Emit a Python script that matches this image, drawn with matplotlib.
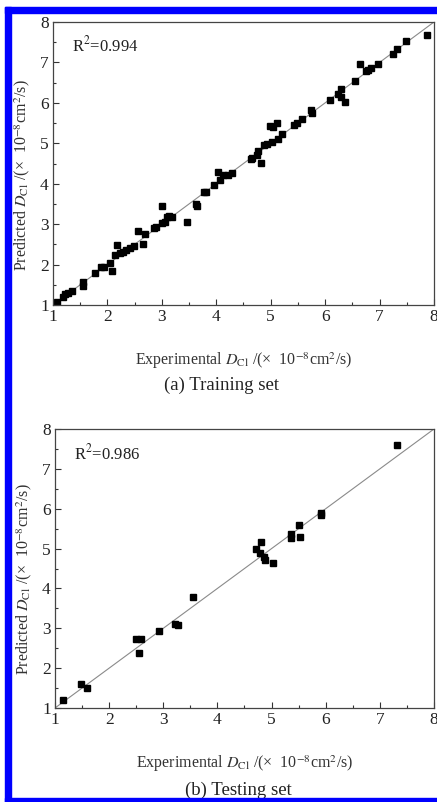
import numpy as np
import matplotlib
matplotlib.use("Agg")
import matplotlib.pyplot as plt
from matplotlib.patches import Rectangle
from matplotlib.ticker import MultipleLocator

plt.rcParams['font.family'] = ['Liberation Serif', 'DejaVu Serif']
plt.rcParams['mathtext.fontset'] = 'stix'

# training set (experimental, predicted)
train_exp = [1.07, 1.19, 1.22, 1.28, 1.34, 1.56, 1.56, 1.77, 1.88, 1.94, 2.05, 2.08,
             2.17, 2.14, 2.23, 2.29, 2.35, 2.42, 2.48, 2.57, 2.66, 2.69, 2.86, 2.90,
             3.01, 3.00, 3.06, 3.09, 3.13, 3.18, 3.46, 3.63, 3.64, 3.77, 3.82, 3.95,
             4.03, 4.06, 4.12, 4.21, 4.28, 4.64, 4.66, 4.74, 4.76, 4.83, 4.87, 4.94,
             5.03, 4.99, 5.05, 5.11, 5.13, 5.21, 5.43, 5.49, 5.58, 5.74, 5.76, 6.09,
             6.24, 6.29, 6.29, 6.36, 6.55, 6.64, 6.75, 6.78, 6.85, 6.98, 7.25, 7.32,
             7.48, 7.87]
train_pred = [1.08, 1.21, 1.26, 1.30, 1.35, 1.58, 1.47, 1.78, 1.93, 1.93, 2.05, 1.85,
              2.49, 2.24, 2.28, 2.32, 2.35, 2.40, 2.47, 2.83, 2.51, 2.75, 2.90, 2.93,
              3.46, 3.02, 3.06, 3.17, 3.20, 3.17, 3.06, 3.49, 3.45, 3.79, 3.80, 3.98,
              4.30, 4.09, 4.22, 4.22, 4.26, 4.60, 4.63, 4.72, 4.80, 4.52, 4.96, 4.98,
              5.02, 5.43, 5.41, 5.51, 5.10, 5.22, 5.46, 5.51, 5.61, 5.82, 5.75, 6.07,
              6.23, 6.34, 6.15, 6.01, 6.55, 6.97, 6.78, 6.82, 6.87, 6.97, 7.22, 7.33,
              7.52, 7.68]

# testing set
test_exp = [1.14, 1.48, 1.60, 2.50, 2.58, 2.55, 2.93, 3.22, 3.27, 3.55, 4.72, 4.78,
            4.80, 4.86, 4.88, 5.03, 5.35, 5.35, 5.51, 5.52, 5.91, 5.91, 7.31]
test_pred = [1.20, 1.61, 1.51, 2.72, 2.72, 2.37, 2.92, 3.12, 3.07, 3.78, 4.98, 4.88,
             5.17, 4.80, 4.72, 4.64, 5.36, 5.27, 5.60, 5.30, 5.89, 5.83, 7.60]

r2_labels = ['R$^2$=0.994', 'R$^2$=0.986']
captions = ['(a) Training set', '(b) Testing set']

xlab = r'Experimental $D_{\rm Cl}$ /(×  10$^{-8}$cm$^2$/s)'
ylab = r'Predicted $D_{\rm Cl}$ /(×  10$^{-8}$cm$^2$/s)'

W, H = 437, 802
fig = plt.figure(figsize=(W / 100, H / 100), dpi=100)

def px(x0, y0, x1, y1):
    # pixel box (top-left origin) -> figure fraction rect
    return [x0 / W, 1 - y1 / H, (x1 - x0) / W, (y1 - y0) / H]

ax1 = fig.add_axes(px(53, 22, 434, 305))
ax2 = fig.add_axes(px(55, 429, 434, 708))

for ax, xs, ys, r2, ry in [(ax1, train_exp, train_pred, r2_labels[0], 0.919),
                           (ax2, test_exp, test_pred, r2_labels[1], 0.914)]:
    ax.plot([1, 8], [1, 8], color='#8a8a8a', lw=0.8, zorder=1)
    ax.plot(xs, ys, 's', color='black', ms=4.3, zorder=2)
    ax.set_xlim(1, 8)
    ax.set_ylim(1, 8)
    ax.xaxis.set_major_locator(MultipleLocator(1))
    ax.yaxis.set_major_locator(MultipleLocator(1))
    ax.xaxis.set_minor_locator(MultipleLocator(0.5))
    ax.yaxis.set_minor_locator(MultipleLocator(0.5))
    ax.tick_params(which='both', direction='in', top=False, right=False,
                   colors='#333333', labelcolor='#222222', labelsize=12.5, pad=3)
    ax.tick_params(which='major', length=4, width=0.8)
    ax.tick_params(which='minor', length=2, width=0.8)
    for s in ax.spines.values():
        s.set_color('#444444')
        s.set_linewidth(0.9)
    ax.text(0.05, ry, r2, transform=ax.transAxes, fontsize=12, color='#222222',
            va='center', ha='left')
    ax.set_xlabel(xlab, fontsize=11.5, color='#333333', labelpad=18)
    ax.set_ylabel(ylab, fontsize=11.5, color='#333333')
    ax.yaxis.set_label_coords(-0.055, 0.46)

fig.text(221 / W, 1 - 385 / H, captions[0], ha='center', va='center',
         fontsize=13.5, color='#222222')
fig.text(238 / W, 1 - 790 / H, captions[1], ha='center', va='center',
         fontsize=13.5, color='#222222')

# blue frame (cropped on the right side)
blue = '#0000ff'
fig.patches.append(Rectangle((5 / W, 0), 6 / W, 1 - 7 / H, transform=fig.transFigure,
                             color=blue, zorder=10))
fig.patches.append(Rectangle((5 / W, 1 - 13 / H), 1, 6 / H, transform=fig.transFigure,
                             color=blue, zorder=10))
fig.patches.append(Rectangle((5 / W, 0), 1, 4 / H, transform=fig.transFigure,
                             color=blue, zorder=10))

fig.savefig('out.png', dpi=100)
